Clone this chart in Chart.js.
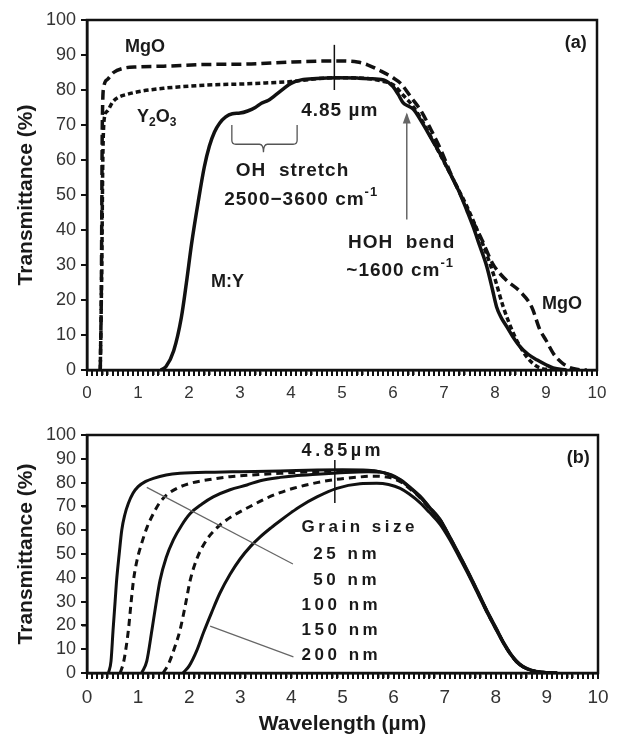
<!DOCTYPE html>
<html>
<head>
<meta charset="utf-8">
<script src="https://cdn.jsdelivr.net/npm/chart.js@4.4.1/dist/chart.umd.min.js"></script>
<style>
  body { margin: 0; background: #fff; }
  #wrap { position: relative; width: 621px; height: 737px; }
  canvas { position: absolute; left: 0; }
</style>
</head>
<body>
<div id="wrap">
  <canvas id="chartA" width="621" height="405" style="top:0"></canvas>
  <canvas id="chartB" width="621" height="332" style="top:405px"></canvas>
</div>
<script>
const FONT = "'Liberation Sans', Arial, sans-serif";

// ---- panel (a): measured spectra ----
const mgoX = [0.26, 0.28, 0.29, 0.30, 0.33, 0.4, 0.52, 0.71, 1.0, 1.5, 2.35, 3.1, 4.0, 4.9, 5.3, 5.5, 5.75, 6.0, 6.15, 6.35, 6.55, 6.75, 6.95, 7.15, 7.35, 7.55, 7.75, 7.95, 8.1, 8.25, 8.5, 8.72, 8.88, 9.0, 9.15, 9.3, 9.45, 9.6, 9.8];
const mgoY = [0, 20, 45, 70, 81, 83, 85, 86.2, 86.6, 86.8, 87.3, 87.4, 88, 88.3, 88, 87.2, 85.5, 83.5, 81.9, 78, 74, 68.5, 62.5, 55.5, 49.3, 43, 37, 30.5, 27.5, 25.3, 22.3, 18, 11.5, 8.5, 4.6, 2.2, 0.8, 0.2, 0];

const y2o3X = [0.26, 0.29, 0.31, 0.34, 0.4, 0.5, 0.6, 0.8, 1.0, 1.5, 2.0, 2.5, 3.0, 3.5, 4.0, 4.5, 4.9, 5.5, 5.8, 6.0, 6.2, 6.4, 6.6, 6.8, 7.05, 7.25, 7.45, 7.65, 7.85, 8.0, 8.16, 8.36, 8.5, 8.62, 8.75, 8.88, 9.1, 9.3];
const y2o3Y = [0, 30, 60, 72, 74, 76.5, 77.8, 78.8, 79.5, 80.5, 81.1, 81.5, 81.7, 82, 82.4, 83.2, 83.5, 83.3, 82.5, 81.5, 78.5, 75.2, 70.5, 65, 58.1, 52.5, 46.7, 40, 32.5, 26, 18.1, 10.5, 6.5, 3.8, 1.8, 0.6, 0.1, 0];

const myX = [1.45, 1.55, 1.7, 1.85, 1.95, 2.05, 2.18, 2.3, 2.4, 2.5, 2.6, 2.72, 2.85, 3.0, 3.15, 3.3, 3.42, 3.55, 3.7, 3.85, 4.0, 4.2, 4.5, 4.9, 5.3, 5.6, 5.85, 6.0, 6.1, 6.2, 6.3, 6.4, 6.55, 6.75, 6.92, 7.1, 7.31, 7.45, 7.57, 7.7, 7.84, 7.95, 8.03, 8.12, 8.23, 8.35, 8.49, 8.65, 8.82, 9.0, 9.14, 9.4];
const myY = [0, 1, 5.5, 15, 25, 36, 48, 58, 64, 68, 70.5, 72.3, 73.2, 73.4, 74, 75, 76.2, 77, 78.6, 80.3, 81.9, 82.9, 83.3, 83.5, 83.4, 83.2, 82.7, 81, 78.8, 76.3, 75.4, 74.5, 71.2, 66.2, 61.9, 56.7, 50.5, 45.5, 41, 35.5, 29.5, 23, 18.1, 15, 12.4, 9.5, 6.7, 4.5, 2.9, 1.5, 0.6, 0];

// ---- panel (b): grain size series ----
const g25X = [0.42, 0.47, 0.51, 0.55, 0.58, 0.63, 0.68, 0.74, 0.81, 0.9, 1.0, 1.15, 1.3, 1.55, 1.82, 2.5, 3.0, 3.78, 4.5, 5.0, 5.5, 5.73, 5.95, 6.13, 6.3, 6.52, 6.7, 6.91, 7.1, 7.3, 7.5, 7.69, 7.85, 8.02, 8.15, 8.28, 8.4, 8.54, 8.7, 8.9, 9.2];
const g25Y = [0, 5, 18, 30, 39, 50, 60, 66.5, 71.3, 75.5, 78.3, 80.5, 81.8, 83.2, 83.9, 84.4, 84.6, 84.9, 85.3, 85.4, 85.2, 84.6, 83.3, 81.3, 78.5, 74.3, 69.8, 64.6, 57.3, 49.2, 40.8, 32.4, 25.3, 18.4, 13, 8.5, 5.2, 2.7, 1.2, 0.4, 0];

const g50X = [0.65, 0.72, 0.81, 0.86, 0.91, 0.98, 1.07, 1.18, 1.3, 1.42, 1.56, 1.78, 2.02, 2.4, 2.8, 3.3, 3.78, 4.3, 4.9, 5.4, 5.73, 5.95, 6.13, 6.3, 6.52, 6.7, 6.91, 7.1, 7.3, 7.5, 7.69, 7.85, 8.02, 8.15, 8.28, 8.4, 8.54, 8.7, 8.9, 9.2];
const g50Y = [0, 5, 18, 29, 39, 47.5, 54.5, 61.5, 67, 71.5, 74.8, 77.8, 79.7, 81.3, 82.5, 83.3, 83.9, 84.5, 84.9, 85, 84.5, 83.1, 81.1, 78.2, 74, 69.5, 64.3, 57, 48.9, 40.5, 32.1, 25, 18.1, 12.8, 8.3, 5, 2.6, 1.1, 0.3, 0];

const g100X = [1.07, 1.17, 1.27, 1.35, 1.43, 1.55, 1.69, 1.85, 2.02, 2.25, 2.47, 2.8, 3.13, 3.39, 3.78, 4.04, 4.5, 4.89, 5.5, 5.8, 6.0, 6.13, 6.3, 6.52, 6.7, 6.91, 7.1, 7.3, 7.5, 7.69, 7.85, 8.02, 8.15, 8.28, 8.4, 8.54, 8.7, 8.9, 9.2];
const g100Y = [0, 5, 18, 29, 39, 48.5, 55.9, 62, 67, 71, 74, 77, 79, 80.8, 82.2, 82.8, 83.5, 84, 84.6, 84.2, 82.4, 81, 78.1, 73.9, 69.4, 64.2, 56.9, 48.8, 40.4, 32, 24.9, 18, 12.7, 8.2, 4.9, 2.5, 1.1, 0.3, 0];

const g150X = [1.49, 1.6, 1.72, 1.82, 1.92, 2.02, 2.15, 2.34, 2.52, 2.73, 3.0, 3.25, 3.5, 3.78, 4.04, 4.5, 4.89, 5.3, 5.6, 5.9, 6.13, 6.3, 6.52, 6.7, 6.91, 7.1, 7.3, 7.5, 7.69, 7.85, 8.02, 8.15, 8.28, 8.4, 8.54, 8.7, 8.9, 9.2];
const g150Y = [0, 4, 11, 18, 28, 39, 48, 55.9, 60.5, 64.3, 67.8, 70.6, 73.3, 75.8, 77.6, 80, 81.4, 82.3, 82.7, 82.2, 80.4, 77.7, 73.6, 69.2, 64, 56.7, 48.6, 40.2, 31.8, 24.7, 17.9, 12.6, 8.1, 4.9, 2.5, 1, 0.3, 0];

const g200X = [1.88, 2.0, 2.15, 2.28, 2.44, 2.6, 2.8, 3.0, 3.2, 3.39, 3.6, 3.78, 4.0, 4.17, 4.5, 4.89, 5.34, 5.67, 5.9, 6.13, 6.3, 6.52, 6.7, 6.91, 7.1, 7.3, 7.5, 7.69, 7.85, 8.02, 8.15, 8.28, 8.4, 8.54, 8.7, 8.9, 9.2];
const g200Y = [0, 3, 9.5, 17, 25.5, 33.5, 41.5, 48, 53.2, 57.2, 61, 64, 67.5, 70, 74, 77.6, 79.5, 79.7, 79.2, 77.6, 75.3, 71.5, 67.5, 62.5, 56, 48, 39.8, 31.5, 24.5, 17.6, 12.4, 8, 4.8, 2.4, 1, 0.3, 0];

const xTicks = [0, 1, 2, 3, 4, 5, 6, 7, 8, 9, 10];
const yTicks = [0, 10, 20, 30, 40, 50, 60, 70, 80, 90, 100];

function pts(xs, ys) {
  return xs.map((x, i) => ({ x: x, y: ys[i] }));
}

function series(label, xs, ys, dash, width) {
  return {
    label: label,
    data: pts(xs, ys),
    borderColor: '#111',
    borderWidth: width,
    borderDash: dash,
    pointRadius: 0,
    fill: false,
    cubicInterpolationMode: 'monotone'
  };
}

// draws text made of parts: [text, 'sub'|'sup'|undefined]
function drawParts(ctx, x, y, parts, size, align, spacing) {
  ctx.letterSpacing = (spacing || 0) + 'px';
  const sizes = parts.map(p => (p[1] ? Math.round(size * 0.68) : size));
  const widths = parts.map((p, i) => {
    ctx.font = 'bold ' + sizes[i] + 'px ' + FONT;
    return ctx.measureText(p[0]).width;
  });
  const total = widths.reduce((a, b) => a + b, 0);
  let cx = align === 'center' ? x - total / 2 : align === 'right' ? x - total : x;
  parts.forEach((p, i) => {
    ctx.font = 'bold ' + sizes[i] + 'px ' + FONT;
    let dy = p[1] === 'sub' ? size * 0.32 : p[1] === 'sup' ? -size * 0.36 : 0;
    ctx.fillText(p[0], cx, y + dy);
    cx += widths[i];
  });
  ctx.letterSpacing = '0px';
}

const notesPlugin = {
  id: 'notes',
  afterDraw(chart) {
    const cfg = chart.options.plugins.notes;
    const ctx = chart.ctx;
    const xs = chart.scales.x, ys = chart.scales.y;
    const a = chart.chartArea;
    const px = v => xs.getPixelForValue(v);
    const py = v => ys.getPixelForValue(v);
    ctx.save();
    ctx.setLineDash([]);

    // tick marks from the scales' own ticks
    ctx.fillStyle = '#111';
    xs.ticks.forEach(t => {
      ctx.fillRect(Math.round(px(t.value)) - 1, a.bottom, 2, 6);
    });
    ys.ticks.forEach(t => {
      ctx.fillRect(a.left - 6, Math.round(py(t.value)) - 1, 6, 2);
    });

    // frame
    ctx.strokeStyle = '#111';
    ctx.lineWidth = 2.5;
    ctx.strokeRect(a.left, a.top, a.right - a.left, a.bottom - a.top);

    (cfg.lines || []).forEach(l => {
      ctx.strokeStyle = l.color;
      ctx.lineWidth = l.width;
      ctx.beginPath();
      ctx.moveTo(px(l.x1), py(l.y1));
      ctx.lineTo(px(l.x2), py(l.y2));
      ctx.stroke();
      if (l.arrow) {
        const x2 = px(l.x2), y2 = py(l.y2);
        ctx.fillStyle = l.color;
        ctx.beginPath();
        ctx.moveTo(x2, y2 - 2);
        ctx.lineTo(x2 - 4, y2 + 9);
        ctx.lineTo(x2 + 4, y2 + 9);
        ctx.closePath();
        ctx.fill();
      }
    });

    if (cfg.brace) {
      const b = cfg.brace;
      const l = px(b.x1), r = px(b.x2), c = px(b.xc);
      const t = py(b.yTop), m = py(b.yMid), tip = py(b.yTip);
      ctx.strokeStyle = '#555';
      ctx.lineWidth = 1.3;
      ctx.beginPath();
      ctx.moveTo(l, t);
      ctx.lineTo(l, m - 4);
      ctx.quadraticCurveTo(l, m, l + 4, m);
      ctx.lineTo(c - 4, m);
      ctx.quadraticCurveTo(c, m, c, tip);
      ctx.quadraticCurveTo(c, m, c + 4, m);
      ctx.lineTo(r - 4, m);
      ctx.quadraticCurveTo(r, m, r, m - 4);
      ctx.lineTo(r, t);
      ctx.stroke();
    }

    ctx.fillStyle = '#1a1a1a';
    ctx.textBaseline = 'middle';
    ctx.textAlign = 'left';
    (cfg.texts || []).forEach(t => {
      drawParts(ctx, px(t.x), py(t.y), t.parts, t.size, t.align, t.spacing);
    });
    ctx.restore();
  }
};

function xScale(tickSize, pad, height, title) {
  return {
    type: 'linear',
    min: 0,
    max: 10,
    ticks: {
      stepSize: 0.1,
      autoSkip: false,
      maxRotation: 0,
      padding: pad,
      color: '#333',
      font: { family: FONT, size: tickSize },
      callback: v => {
        const r = Math.round(v);
        return Math.abs(v - r) < 1e-6 && xTicks.includes(r) ? String(r) : '';
      }
    },
    grid: { drawOnChartArea: false, color: '#111', lineWidth: 1.5, tickLength: 5 },
    border: { color: '#111', width: 2.5 },
    title: {
      display: !!title,
      text: title || '',
      color: '#1a1a1a',
      font: { family: FONT, size: 21, weight: 'bold' },
      padding: { top: 0, bottom: 0 }
    },
    afterFit: s => { s.height = height; }
  };
}

function yScale(tickSize) {
  return {
    min: 0,
    max: 100,
    afterBuildTicks: s => { s.ticks = yTicks.map(v => ({ value: v })); },
    ticks: {
      autoSkip: false,
      padding: 6,
      color: '#333',
      font: { family: FONT, size: tickSize }
    },
    grid: { drawOnChartArea: false, color: '#111', lineWidth: 1.5, tickLength: 5 },
    border: { color: '#111', width: 2.5 },
    title: {
      display: true,
      text: 'Transmittance (%)',
      color: '#1a1a1a',
      font: { family: FONT, size: 21, weight: 'bold' },
      padding: { top: 14, bottom: 0 }
    },
    afterFit: s => { s.width = 87; }
  };
}

new Chart(document.getElementById('chartA'), {
  type: 'line',
  data: {
    datasets: [
      series('MgO', mgoX, mgoY, [10, 5], 3.5),
      series('Y2O3', y2o3X, y2o3Y, [5, 3], 3.5),
      series('M:Y', myX, myY, [], 3.5)
    ]
  },
  options: {
    responsive: false,
    animation: false,
    layout: { padding: { top: 20, right: 24, left: 0, bottom: 0 } },
    scales: { x: xScale(17, 8, 35, null), y: yScale(18) },
    plugins: {
      legend: { display: false },
      tooltip: { enabled: false },
      notes: {
        lines: [
          { x1: 4.85, y1: 92.9, x2: 4.85, y2: 80, color: '#111', width: 1.5 },
          { x1: 6.27, y1: 43, x2: 6.27, y2: 73, color: '#666', width: 1.5, arrow: true }
        ],
        brace: { x1: 2.84, x2: 4.12, xc: 3.46, yTop: 70, yMid: 64.5, yTip: 62.2 },
        texts: [
          { x: 0.745, y: 92.4, parts: [['MgO']], size: 18, align: 'left' },
          { x: 0.98, y: 72.4, parts: [['Y'], ['2', 'sub'], ['O'], ['3', 'sub']], size: 18, align: 'left' },
          { x: 4.2, y: 74, parts: [['4.85 µm']], size: 19, align: 'left', spacing: 1 },
          { x: 4.03, y: 57, parts: [['OH  stretch']], size: 19, align: 'center', spacing: 1 },
          { x: 4.2, y: 48.7, parts: [['2500\u22123600 cm'], ['-1', 'sup']], size: 19, align: 'center', spacing: 1 },
          { x: 6.17, y: 36.4, parts: [['HOH  bend']], size: 19, align: 'center', spacing: 1 },
          { x: 6.14, y: 28.4, parts: [['~1600 cm'], ['-1', 'sup']], size: 19, align: 'center', spacing: 1 },
          { x: 2.43, y: 25, parts: [['M:Y']], size: 18, align: 'left' },
          { x: 8.92, y: 18.9, parts: [['MgO']], size: 18, align: 'left' },
          { x: 9.8, y: 93.4, parts: [['(a)']], size: 18, align: 'right' }
        ]
      }
    }
  },
  plugins: [notesPlugin]
});

new Chart(document.getElementById('chartB'), {
  type: 'line',
  data: {
    datasets: [
      series('25 nm', g25X, g25Y, [], 3),
      series('50 nm', g50X, g50Y, [7, 5], 3),
      series('100 nm', g100X, g100Y, [], 3),
      series('150 nm', g150X, g150Y, [7, 5], 3),
      series('200 nm', g200X, g200Y, [], 3)
    ]
  },
  options: {
    responsive: false,
    animation: false,
    layout: { padding: { top: 30, right: 23, left: 0, bottom: 0 } },
    scales: { x: xScale(19, 8, 64, 'Wavelength (µm)'), y: yScale(18) },
    plugins: {
      legend: { display: false },
      tooltip: { enabled: false },
      notes: {
        lines: [
          { x1: 4.85, y1: 89.5, x2: 4.85, y2: 71.4, color: '#111', width: 1.5 },
          { x1: 1.17, y1: 78, x2: 4.03, y2: 45.8, color: '#666', width: 1.2 },
          { x1: 2.41, y1: 19.7, x2: 4.04, y2: 6.8, color: '#666', width: 1.2 }
        ],
        texts: [
          { x: 4.2, y: 93.3, parts: [['4.85µm']], size: 18, align: 'left', spacing: 3.5 },
          { x: 4.2, y: 61.1, parts: [['Grain size']], size: 17, align: 'left', spacing: 3.5 },
          { x: 4.43, y: 50, parts: [['25 nm']], size: 17, align: 'left', spacing: 3.5 },
          { x: 4.43, y: 39, parts: [['50 nm']], size: 17, align: 'left', spacing: 3.5 },
          { x: 4.2, y: 28.6, parts: [['100 nm']], size: 17, align: 'left', spacing: 3.5 },
          { x: 4.2, y: 18.1, parts: [['150 nm']], size: 17, align: 'left', spacing: 3.5 },
          { x: 4.2, y: 7.6, parts: [['200 nm']], size: 17, align: 'left', spacing: 3.5 },
          { x: 9.84, y: 90.3, parts: [['(b)']], size: 18, align: 'right' }
        ]
      }
    }
  },
  plugins: [notesPlugin]
});
</script>
</body>
</html>
